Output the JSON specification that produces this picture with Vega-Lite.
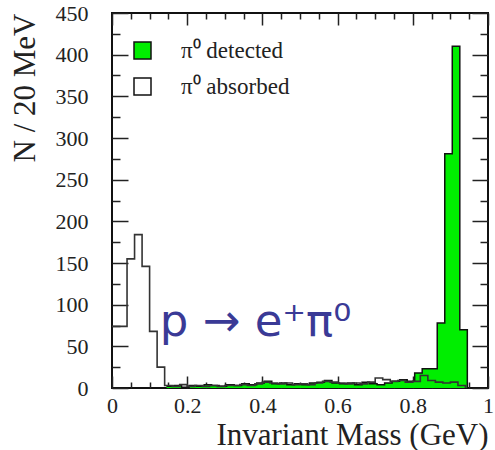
{
  "$schema": "https://vega.github.io/schema/vega-lite/v6.json",
  "width": 376,
  "height": 375,
  "autosize": {"type": "none"},
  "padding": {"left": 112, "top": 13, "right": 7, "bottom": 62},
  "background": "white",
  "config": {
    "view": {"stroke": "#111", "strokeWidth": 2},
    "axis": {
      "domain": false,
      "grid": false,
      "labelFont": "Liberation Serif",
      "labelFontSize": 22,
      "labelColor": "#222",
      "titleFont": "Liberation Serif",
      "titleFontSize": 31,
      "titleFontWeight": "normal",
      "titleColor": "#222",
      "tickColor": "#222",
      "tickWidth": 1.5
    }
  },
  "datasets": {
    "detected": [
      {"mass": 0.145, "count": 2, "series": "π⁰ detected"},
      {"mass": 0.165, "count": 3, "series": "π⁰ detected"},
      {"mass": 0.185, "count": 1, "series": "π⁰ detected"},
      {"mass": 0.205, "count": 3, "series": "π⁰ detected"},
      {"mass": 0.225, "count": 2, "series": "π⁰ detected"},
      {"mass": 0.245, "count": 4, "series": "π⁰ detected"},
      {"mass": 0.265, "count": 3, "series": "π⁰ detected"},
      {"mass": 0.285, "count": 2, "series": "π⁰ detected"},
      {"mass": 0.305, "count": 4, "series": "π⁰ detected"},
      {"mass": 0.325, "count": 3, "series": "π⁰ detected"},
      {"mass": 0.345, "count": 5, "series": "π⁰ detected"},
      {"mass": 0.365, "count": 4, "series": "π⁰ detected"},
      {"mass": 0.385, "count": 6, "series": "π⁰ detected"},
      {"mass": 0.405, "count": 8, "series": "π⁰ detected"},
      {"mass": 0.425, "count": 5, "series": "π⁰ detected"},
      {"mass": 0.445, "count": 6, "series": "π⁰ detected"},
      {"mass": 0.465, "count": 4, "series": "π⁰ detected"},
      {"mass": 0.485, "count": 5, "series": "π⁰ detected"},
      {"mass": 0.505, "count": 4, "series": "π⁰ detected"},
      {"mass": 0.525, "count": 6, "series": "π⁰ detected"},
      {"mass": 0.545, "count": 7, "series": "π⁰ detected"},
      {"mass": 0.565, "count": 9, "series": "π⁰ detected"},
      {"mass": 0.585, "count": 6, "series": "π⁰ detected"},
      {"mass": 0.605, "count": 5, "series": "π⁰ detected"},
      {"mass": 0.625, "count": 6, "series": "π⁰ detected"},
      {"mass": 0.645, "count": 4, "series": "π⁰ detected"},
      {"mass": 0.665, "count": 7, "series": "π⁰ detected"},
      {"mass": 0.685, "count": 5, "series": "π⁰ detected"},
      {"mass": 0.705, "count": 4, "series": "π⁰ detected"},
      {"mass": 0.725, "count": 6, "series": "π⁰ detected"},
      {"mass": 0.745, "count": 8, "series": "π⁰ detected"},
      {"mass": 0.765, "count": 10, "series": "π⁰ detected"},
      {"mass": 0.785, "count": 8, "series": "π⁰ detected"},
      {"mass": 0.805, "count": 18, "series": "π⁰ detected"},
      {"mass": 0.825, "count": 23, "series": "π⁰ detected"},
      {"mass": 0.845, "count": 23, "series": "π⁰ detected"},
      {"mass": 0.865, "count": 78, "series": "π⁰ detected"},
      {"mass": 0.885, "count": 281, "series": "π⁰ detected"},
      {"mass": 0.905, "count": 410, "series": "π⁰ detected"},
      {"mass": 0.925, "count": 70, "series": "π⁰ detected"},
      {"mass": 0.945, "count": 0, "series": "π⁰ detected"}
    ],
    "absorbed": [
      {"mass": 0.0, "count": 74},
      {"mass": 0.02, "count": 74},
      {"mass": 0.04, "count": 155},
      {"mass": 0.06, "count": 184},
      {"mass": 0.08, "count": 146},
      {"mass": 0.1, "count": 68},
      {"mass": 0.12, "count": 25},
      {"mass": 0.14, "count": 3},
      {"mass": 0.16, "count": 2},
      {"mass": 0.18, "count": 4},
      {"mass": 0.2, "count": 2},
      {"mass": 0.22, "count": 3},
      {"mass": 0.24, "count": 2},
      {"mass": 0.26, "count": 3},
      {"mass": 0.28, "count": 2},
      {"mass": 0.3, "count": 3},
      {"mass": 0.32, "count": 3},
      {"mass": 0.34, "count": 4},
      {"mass": 0.36, "count": 3},
      {"mass": 0.38, "count": 5},
      {"mass": 0.4, "count": 7},
      {"mass": 0.42, "count": 6},
      {"mass": 0.44, "count": 5},
      {"mass": 0.46, "count": 6},
      {"mass": 0.48, "count": 4},
      {"mass": 0.5, "count": 5},
      {"mass": 0.52, "count": 4},
      {"mass": 0.54, "count": 6},
      {"mass": 0.56, "count": 8},
      {"mass": 0.58, "count": 7},
      {"mass": 0.6, "count": 6},
      {"mass": 0.62, "count": 5},
      {"mass": 0.64, "count": 6},
      {"mass": 0.66, "count": 5},
      {"mass": 0.68, "count": 7},
      {"mass": 0.7, "count": 12},
      {"mass": 0.72, "count": 10},
      {"mass": 0.74, "count": 8},
      {"mass": 0.76, "count": 9},
      {"mass": 0.78, "count": 7},
      {"mass": 0.8, "count": 8},
      {"mass": 0.82, "count": 15},
      {"mass": 0.84, "count": 9},
      {"mass": 0.86, "count": 7},
      {"mass": 0.88, "count": 6},
      {"mass": 0.9, "count": 7},
      {"mass": 0.92, "count": 3},
      {"mass": 0.94, "count": 0}
    ],
    "note": [
      {"mass": 0.127, "count": 62, "label": "p → e⁺π⁰"}
    ]
  },
  "layer": [
    {
      "data": {"name": "detected"},
      "mark": {"type": "area", "interpolate": "step-after", "fillOpacity": 1},
      "encoding": {
        "x": {
          "field": "mass", "type": "quantitative",
          "scale": {"domain": [0, 1], "nice": false, "zero": false},
          "axis": {
            "orient": "bottom",
            "title": "Invariant Mass (GeV)",
            "titleAnchor": "end",
            "titlePadding": 4,
            "values": [0, 0.2, 0.4, 0.6, 0.8, 1],
            "format": "~g",
            "tickSize": -12,
            "labelPadding": 19,
            "labelFlush": false,
            "labelOverlap": false
          }
        },
        "y": {
          "field": "count", "type": "quantitative",
          "scale": {"domain": [0, 450], "nice": false},
          "axis": {
            "orient": "left",
            "title": "N / 20 MeV",
            "titleAnchor": "end",
            "titlePadding": 14,
            "values": [0, 50, 100, 150, 200, 250, 300, 350, 400, 450],
            "tickSize": -16,
            "labelPadding": 40,
            "labelFlush": false,
            "labelOverlap": false
          }
        },
        "fill": {
          "field": "series", "type": "nominal",
          "scale": {"domain": ["π⁰ detected", "π⁰ absorbed"], "range": ["#00ee00", "#ffffff"]},
          "legend": {
            "title": null,
            "orient": "none",
            "legendX": 19,
            "legendY": 26,
            "padding": 0,
            "symbolType": "square",
            "symbolSize": 289,
            "symbolStrokeColor": "#111",
            "symbolStrokeWidth": 1.5,
            "symbolOpacity": 1,
            "labelFont": "Liberation Serif",
            "labelFontSize": 23,
            "labelColor": "#222",
            "labelOffset": 27,
            "rowPadding": 12
          }
        }
      }
    },
    {
      "data": {"name": "detected"},
      "mark": {"type": "line", "interpolate": "step-after", "color": "#111", "strokeWidth": 1.5},
      "encoding": {
        "x": {
          "field": "mass", "type": "quantitative",
          "axis": {
            "orient": "bottom",
            "title": null,
            "labels": false,
            "values": [0.05, 0.1, 0.15, 0.25, 0.3, 0.35, 0.45, 0.5, 0.55, 0.65, 0.7, 0.75, 0.85, 0.9, 0.95],
            "tickSize": -6
          }
        },
        "y": {
          "field": "count", "type": "quantitative",
          "axis": {
            "orient": "left",
            "title": null,
            "labels": false,
            "values": [25, 75, 125, 175, 225, 275, 325, 375, 425],
            "tickSize": -8
          }
        }
      }
    },
    {
      "data": {"name": "absorbed"},
      "mark": {"type": "line", "interpolate": "step-after", "color": "#333", "strokeWidth": 1.6},
      "encoding": {
        "x": {
          "field": "mass", "type": "quantitative",
          "axis": {
            "orient": "top",
            "title": null,
            "labels": false,
            "values": [0, 0.2, 0.4, 0.6, 0.8, 1],
            "tickSize": -12
          }
        },
        "y": {
          "field": "count", "type": "quantitative",
          "axis": {
            "orient": "right",
            "title": null,
            "labels": false,
            "values": [0, 50, 100, 150, 200, 250, 300, 350, 400, 450],
            "tickSize": -16
          }
        }
      }
    },
    {
      "data": {"name": "note"},
      "mark": {"type": "text", "font": "DejaVu Sans", "fontSize": 45, "color": "#3a3a96", "align": "left", "baseline": "alphabetic"},
      "encoding": {
        "x": {
          "field": "mass", "type": "quantitative",
          "axis": {
            "orient": "top",
            "title": null,
            "labels": false,
            "values": [0.05, 0.1, 0.15, 0.25, 0.3, 0.35, 0.45, 0.5, 0.55, 0.65, 0.7, 0.75, 0.85, 0.9, 0.95],
            "tickSize": -6
          }
        },
        "y": {
          "field": "count", "type": "quantitative",
          "axis": {
            "orient": "right",
            "title": null,
            "labels": false,
            "values": [25, 75, 125, 175, 225, 275, 325, 375, 425],
            "tickSize": -8
          }
        },
        "text": {"field": "label"}
      }
    }
  ],
  "resolve": {"axis": {"x": "independent", "y": "independent"}}
}
